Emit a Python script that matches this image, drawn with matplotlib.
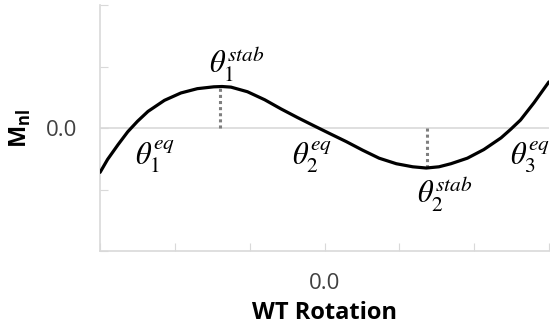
import matplotlib
matplotlib.use("Agg")
import matplotlib.pyplot as plt

plt.rcParams['font.family'] = ['Open Sans', 'DejaVu Sans']
plt.rcParams['mathtext.fontset'] = 'custom'
plt.rcParams['mathtext.rm'] = 'Open Sans'
plt.rcParams['mathtext.bf'] = 'Open Sans:bold'

# rotation vs. nonlinear moment
rotation = [-3.0, -2.9, -2.76, -2.63, -2.5, -2.36, -2.14, -1.92, -1.7, -1.48,
            -1.37, -1.25, -1.03, -0.8, -0.58, -0.36, -0.13, 0.07, 0.29, 0.51,
            0.73, 0.96, 1.18, 1.36, 1.53, 1.69, 1.91, 2.13, 2.36, 2.49, 2.62,
            2.8, 3.0]
moment = [-0.72, -0.51, -0.27, -0.06, 0.11, 0.27, 0.45, 0.57, 0.64, 0.67,
          0.675, 0.665, 0.59, 0.46, 0.31, 0.17, 0.03, -0.09, -0.22, -0.36,
          -0.49, -0.58, -0.63, -0.65, -0.63, -0.58, -0.49, -0.35, -0.16, -0.02,
          0.13, 0.41, 0.75]

# stable points (dotted drop lines)
stab_x = [-1.4, 1.37]
stab_y = [0.675, -0.65]

# point labels: text, x, y
labels = [r'$\theta_1^{stab}$', r'$\theta_1^{eq}$', r'$\theta_2^{eq}$',
          r'$\theta_2^{stab}$', r'$\theta_3^{eq}$']
label_x = [-1.17, -2.27, -0.17, 1.61, 2.75]
label_y = [1.05, -0.47, -0.47, -1.07, -0.47]

fig = plt.figure(figsize=(5.5, 3.33), dpi=100)
ax = fig.add_axes([0.182, 0.246, 0.816, 0.739])

ax.axhline(0, color='#d9d9d9', lw=1.2, zorder=1)
for sx, sy in zip(stab_x, stab_y):
    ax.plot([sx, sx], [0, sy], color='#7f7f7f', lw=2.2, ls=(0, (1, 1)), zorder=2)
ax.plot(rotation, moment, color='black', lw=2.3, zorder=3,
        solid_joinstyle='round', solid_capstyle='round')

for t, lx, ly in zip(labels, label_x, label_y):
    ax.text(lx, ly, t, fontsize=22, ha='center', va='center',
            math_fontfamily='stix', clip_on=False)

ax.set_xlim(-3, 3)
ax.set_ylim(-2, 2)
ax.set_xticks([-3, -2, -1, 0, 1, 2, 3])
ax.set_xticklabels(['', '', '', '0.0', '', '', ''])
ax.set_yticks([-2, -1, 0, 1, 2])
ax.set_yticklabels(['', '', '0.0', '', ''])
ax.tick_params(direction='in', length=6, color='#d9d9d9', labelsize=16,
               labelcolor='#404040')
ax.tick_params(axis='x', pad=16)
ax.tick_params(axis='y', pad=16.5)

for s in ['top', 'right']:
    ax.spines[s].set_visible(False)
for s in ['left', 'bottom']:
    ax.spines[s].set_color('#d9d9d9')
    ax.spines[s].set_linewidth(1.2)

ax.set_xlabel('WT Rotation', fontsize=17, fontweight='bold', labelpad=5)
ax.set_ylabel(r'$\mathbf{M}_{\mathbf{nl}}$', fontsize=17, labelpad=9)

fig.savefig('out.png', dpi=100)
